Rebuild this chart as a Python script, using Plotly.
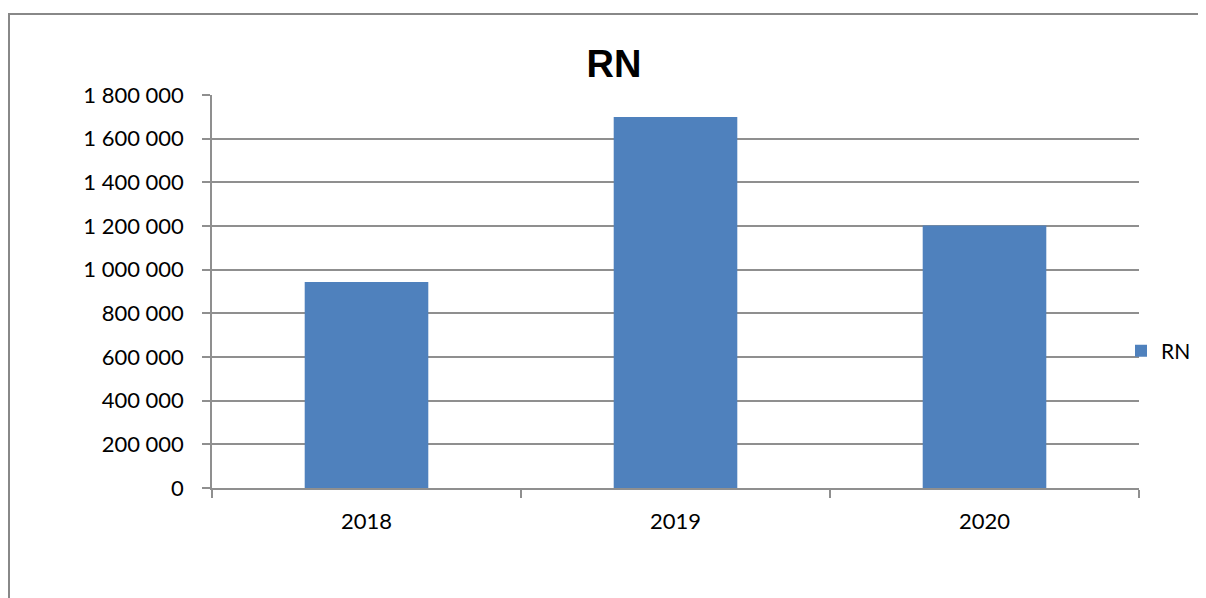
import plotly.graph_objects as go

categories = ["2018", "2019", "2020"]
rn_values = [943000, 1699000, 1202000]
series_name = "RN"
ytick_vals = [0, 200000, 400000, 600000, 800000, 1000000, 1200000, 1400000, 1600000, 1800000]
ytick_text = ["0", "200 000", "400 000", "600 000", "800 000", "1 000 000",
              "1 200 000", "1 400 000", "1 600 000", "1 800 000"]

# page body has an 8px margin: figure coordinates = screen coordinates - 8
OFF = 8
W, H = 1206 - OFF, 598 - OFF
L, R, T, B = 212 - OFF, 1139 - OFF, 95 - OFF, 488 - OFF
pw, ph = R - L, B - T

grid = "#8f8f8f"
font_family = "Lato, 'Liberation Sans', sans-serif"

fig = go.Figure()
fig.add_trace(go.Bar(x=categories, y=rn_values, name=series_name,
                     marker=dict(color="#4F81BD", line=dict(width=0)),
                     showlegend=True))

fig.update_layout(
    width=W, height=H,
    margin=dict(l=L, r=W - R, t=T, b=H - B, pad=0, autoexpand=False),
    paper_bgcolor="white", plot_bgcolor="white",
    bargap=0.6,
    font=dict(family=font_family, size=22, color="#000000"),
    title=dict(text="<b>RN</b>", x=(614 - OFF) / W, xanchor="center",
               y=1 - (64 - OFF) / H, yanchor="middle", yref="container",
               font=dict(family="'Liberation Sans', Arial, sans-serif", size=38, color="#000000")),
    showlegend=True,
    legend=dict(xref="container", yref="container",
                x=(1121 - OFF) / W, xanchor="left", y=1 - (351 - OFF) / H, yanchor="middle",
                bgcolor="rgba(0,0,0,0)", borderwidth=0,
                font=dict(family=font_family, size=21, color="#000000"),
                itemwidth=30),
    xaxis=dict(type="category", showgrid=False, showline=True, linecolor=grid, linewidth=1.5,
               ticks="outside", tickson="boundaries", ticklen=8, tickcolor=grid, tickwidth=1.5,
               ticklabelstandoff=13, tickfont=dict(size=22), zeroline=False),
    yaxis=dict(range=[0, 1800000], tickvals=ytick_vals, ticktext=ytick_text,
               showgrid=True, gridcolor=grid, gridwidth=1.5,
               showline=True, linecolor=grid, linewidth=1.5,
               ticks="outside", ticklen=8, tickcolor=grid, tickwidth=1.5,
               ticklabelstandoff=14, tickfont=dict(size=22), zeroline=False),
    shapes=[dict(type="rect", xref="paper", yref="paper",
                 x0=(9 - 212) / pw, x1=(1230 - 212) / pw,
                 y0=-(640 - 488) / ph, y1=1 + (95 - 14) / ph,
                 line=dict(color="#888888", width=2), fillcolor="rgba(0,0,0,0)", layer="below")],
)

fig.write_html("out.html")
